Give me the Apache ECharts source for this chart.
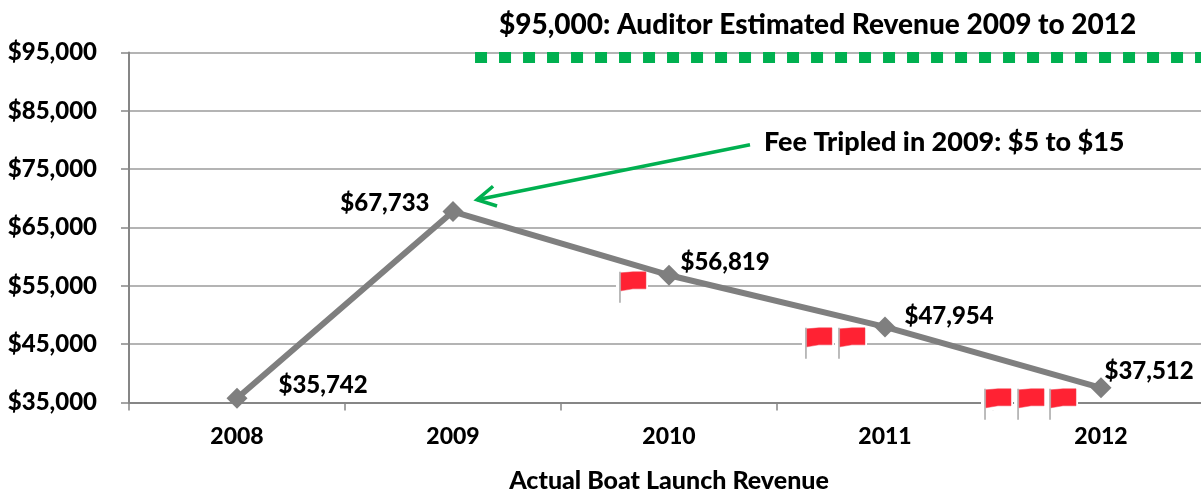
<!DOCTYPE html>
<html>
<head>
<meta charset="utf-8">
<style>
  html, body { margin: 0; padding: 0; background: #fff; }
  #chart { width: 1201px; height: 489px; }
</style>
<script src="https://cdn.jsdelivr.net/npm/echarts@6/dist/echarts.min.js"></script>
</head>
<body>
<div id="chart"></div>
<script>
const years = ['2008', '2009', '2010', '2011', '2012'];
const revenue = [35742, 67733, 56819, 47954, 37512];
const auditorLine = [[1.102, 95000], [4.5, 95000]];
// flag poles: [x position on the year scale, value at top of pole]
const flags = [[1.773, 57400], [2.634, 47800], [2.787, 47800], [3.463, 37350], [3.616, 37350], [3.764, 37350]];
// arrow: [tail], [head]
const arrow = [[2.375, 79180], [1.111, 69750]];
const labelSpots = [
  ['right', [26, -13]],
  ['left', [-8, -8]],
  ['right', [-4, -13]],
  ['right', [4, -11]],
  ['right', [-12, -17]]
];

const FONT = 'Lato, Carlito, Calibri, sans-serif';
const GREEN = '#00b050';
const textStyle = { fontFamily: FONT, fontWeight: 900, fontSize: 24, color: '#000' };

let myChart = echarts.init(document.getElementById('chart'), null, { renderer: 'canvas' });

function drawFlag(params, api) {
  let p = api.coord([api.value(0), api.value(1)]);
  let x = p[0], y = p[1];
  return {
    type: 'group',
    children: [
      { type: 'rect', shape: { x: x - 4, y: y - 1, width: 32, height: 23 }, style: { fill: '#fff' } },
      { type: 'line', shape: { x1: x, y1: y, x2: x, y2: y + 31 }, style: { stroke: '#a6a6a6', lineWidth: 1.5 } },
      {
        type: 'polygon',
        shape: { points: [[x + 1, y + 1], [x + 13, y], [x + 26, y], [x + 26, y + 17], [x + 13, y + 17], [x + 1, y + 19]] },
        style: { fill: '#ff2233', stroke: '#f04050', lineWidth: 0.5 }
      }
    ]
  };
}

function drawArrow(params, api) {
  let a = api.coord(arrow[0]);
  let b = api.coord(arrow[1]);
  let ang = Math.atan2(a[1] - b[1], a[0] - b[0]);
  let len = 21;
  let h1 = [b[0] + len * Math.cos(ang - 0.5), b[1] + len * Math.sin(ang - 0.5)];
  let h2 = [b[0] + len * Math.cos(ang + 0.5), b[1] + len * Math.sin(ang + 0.5)];
  let st = { stroke: GREEN, lineWidth: 3.5, fill: 'none' };
  return {
    type: 'group',
    children: [
      { type: 'line', shape: { x1: a[0], y1: a[1], x2: b[0], y2: b[1] }, style: st },
      { type: 'polyline', shape: { points: [h1, b, h2] }, style: st }
    ]
  };
}

let option = {
  animation: false,
  backgroundColor: '#fff',
  grid: { left: 129, top: 52.5, width: 1080, height: 350, containLabel: false, outerBoundsMode: 'none' },
  xAxis: [
    {
      type: 'category',
      data: years,
      axisLine: { lineStyle: { color: '#868686', width: 2 } },
      axisTick: { show: true, length: 8, lineStyle: { color: '#868686', width: 1.5 } },
      axisLabel: Object.assign({}, textStyle, { fontSize: 23, margin: 23, hideOverlap: false }),
      name: 'Actual Boat Launch Revenue',
      nameLocation: 'center',
      nameGap: 66,
      nameTextStyle: Object.assign({}, textStyle, { fontSize: 25 })
    },
    { type: 'value', min: -0.5, max: 4.5, show: false, splitLine: { show: false } }
  ],
  yAxis: {
    type: 'value',
    min: 35000,
    max: 95000,
    interval: 10000,
    axisLine: { show: true, onZero: false, lineStyle: { color: '#868686', width: 2 } },
    axisTick: { show: true, length: 8, lineStyle: { color: '#868686', width: 1.5 } },
    splitLine: { show: true, lineStyle: { color: '#b4b4b4', width: 2 } },
    axisLabel: Object.assign({}, textStyle, {
      margin: 32,
      formatter: function (v) { return '$' + String(v).replace(/\B(?=(\d{3})+$)/g, ','); }
    })
  },
  series: [
    {
      name: 'Auditor Estimated Revenue',
      type: 'line',
      xAxisIndex: 1,
      data: auditorLine,
      symbol: 'none',
      clip: true,
      lineStyle: { color: GREEN, width: 21, type: [12, 12], cap: 'butt' },
      silent: true
    },
    {
      name: 'Actual Boat Launch Revenue',
      type: 'line',
      data: revenue.map(function (v, i) {
        return {
          value: v,
          label: { position: labelSpots[i][0], offset: labelSpots[i][1] }
        };
      }),
      symbol: 'diamond',
      symbolSize: 21,
      clip: false,
      z: 5,
      itemStyle: { color: '#7f7f7f' },
      lineStyle: { color: '#7f7f7f', width: 6 },
      label: Object.assign({ show: true, formatter: function (p) {
        return '$' + String(p.value).replace(/\B(?=(\d{3})+$)/g, ',');
      } }, textStyle)
    },
    {
      name: 'Flags',
      type: 'custom',
      xAxisIndex: 1,
      clip: false,
      z: 3,
      data: flags,
      renderItem: drawFlag
    },
    {
      name: 'Arrow',
      type: 'custom',
      xAxisIndex: 1,
      clip: false,
      z: 4,
      data: [arrow[0]],
      renderItem: drawArrow
    }
  ],
  graphic: [
    // hides the half of the thick dashed line that sits above the plot top
    { type: 'rect', left: 440, top: 30, z: 10, shape: { width: 761, height: 22 }, style: { fill: '#fff' } },
    {
      type: 'text', left: 499, top: 11, z: 11,
      style: { text: '$95,000: Auditor Estimated Revenue 2009 to 2012', font: '900 28px ' + FONT, fill: '#000' }
    },
    {
      type: 'text', left: 764, top: 129, z: 11,
      style: { text: 'Fee Tripled in 2009: $5 to $15', font: '900 27px ' + FONT, fill: '#000' }
    }
  ]
};

myChart.setOption(option);
</script>
</body>
</html>
